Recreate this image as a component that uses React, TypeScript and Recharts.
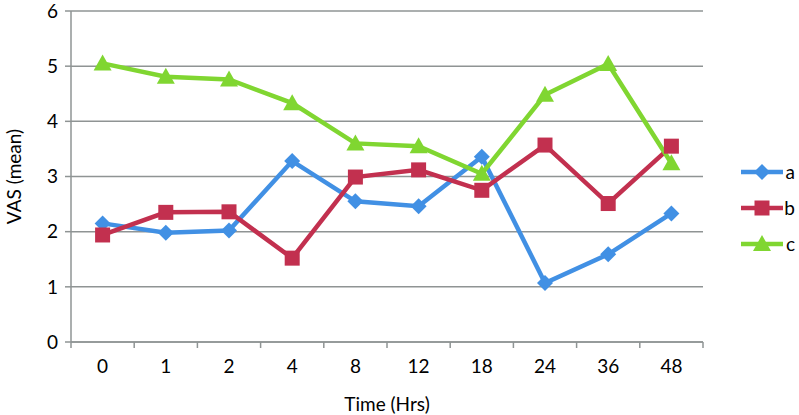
import { LineChart, Line, XAxis, YAxis, CartesianGrid, Legend } from "recharts";

// Hours after surgery (categories)
const times = ["0", "1", "2", "4", "8", "12", "18", "24", "36", "48"];
// Mean VAS per group
const seriesA = [2.15, 1.98, 2.02, 3.28, 2.55, 2.46, 3.36, 1.07, 1.59, 2.33];
const seriesB = [1.94, 2.35, 2.36, 1.52, 2.99, 3.12, 2.75, 3.57, 2.51, 3.55];
const seriesC = [5.05, 4.81, 4.76, 4.33, 3.6, 3.55, 3.05, 4.48, 5.04, 3.24];
const yTicks = [0, 1, 2, 3, 4, 5, 6];

const W = 799;
const H = 415;
const MARGIN = { top: 11, right: 4, bottom: 0, left: 0 };
const Y_AXIS_W = 71;
const X_AXIS_H = 73;
const LEGEND_W = 92;
const PLOT_W = W - MARGIN.left - MARGIN.right - Y_AXIS_W - LEGEND_W;

const BLUE = "#4190e4";
const RED = "#c2304f";
const GREEN = "#80d631";
const GRID = "#8f9494";
const FONT = "Lato, 'Open Sans', sans-serif";
const FS = 19;

const data = times.map((t, i) => ({ time: t, a: seriesA[i], b: seriesB[i], c: seriesC[i] }));

// Recharts hands custom dots the series colour as stroke
const Diamond = ({ cx, cy, stroke }: any) => (
  <polygon points={`${cx},${cy - 8} ${cx + 8},${cy} ${cx},${cy + 8} ${cx - 8},${cy}`} fill={stroke} />
);
const Square = ({ cx, cy, stroke }: any) => (
  <rect x={cx - 7.5} y={cy - 7.5} width={15} height={15} fill={stroke} />
);
const Triangle = ({ cx, cy, stroke }: any) => (
  <polygon points={`${cx},${cy - 9} ${cx + 9},${cy + 7} ${cx - 9},${cy + 7}`} fill={stroke} />
);

const markers: Record<string, any> = { a: Diamond, b: Square, c: Triangle };

const band = PLOT_W / times.length;

// Excel-style ticks sit between categories
function XTick({ x, y, payload, index }: any) {
  return (
    <g>
      <line x1={x - band / 2} x2={x - band / 2} y1={y - 18} y2={y - 12} stroke={GRID} strokeWidth={1.5} />
      {index === times.length - 1 && (
        <line x1={x + band / 2} x2={x + band / 2} y1={y - 18} y2={y - 12} stroke={GRID} strokeWidth={1.5} />
      )}
      <text x={x} y={y} dy="0.71em" textAnchor="middle" fontSize={FS} fontFamily={FONT} fill="#000">
        {payload.value}
      </text>
    </g>
  );
}

function LegendBox({ payload }: any) {
  return (
    <div style={{ width: LEGEND_W, fontFamily: FONT, fontSize: FS }}>
      {(payload || []).map((p: any) => {
        const M = markers[p.dataKey];
        return (
          <div key={p.dataKey} style={{ display: "flex", alignItems: "center", height: 36 }}>
            <svg width={84} height={20} style={{ display: "block" }}>
              <line x1={38} x2={80} y1={10} y2={10} stroke={p.color} strokeWidth={4.5} />
              <M cx={59} cy={10} stroke={p.color} />
            </svg>
            <span style={{ marginLeft: 1, lineHeight: "20px" }}>{p.value}</span>
          </div>
        );
      })}
    </div>
  );
}

export default function App() {
  return (
    <div style={{ position: "absolute", left: 0, top: 0, width: W, height: H, background: "#fff" }}>
      <LineChart width={W} height={H} data={data} margin={MARGIN}>
        <CartesianGrid vertical={false} stroke={GRID} strokeWidth={1.5} />
        <XAxis
          dataKey="time"
          height={X_AXIS_H}
          stroke={GRID}
          strokeWidth={1.5}
          padding={{ left: band / 2, right: band / 2 }}
          tickLine={false}
          tickSize={6}
          tickMargin={12}
          tick={<XTick />}
          interval={0}
          label={{ value: "Time (Hrs)", position: "insideBottom", offset: 4, fontSize: FS, fontFamily: FONT, fill: "#000" }}
        />
        <YAxis
          width={Y_AXIS_W}
          domain={[0, 6]}
          ticks={yTicks}
          interval={0}
          stroke={GRID}
          strokeWidth={1.5}
          tickSize={6}
          tickMargin={7}
          tick={{ fontSize: FS, fontFamily: FONT, fill: "#000" }}
          label={{
            value: "VAS (mean)",
            angle: -90,
            position: "insideLeft",
            offset: 14,
            fontSize: FS,
            fontFamily: FONT,
            fill: "#000",
            style: { textAnchor: "middle" },
          }}
        />
        <Legend layout="vertical" align="right" verticalAlign="middle" content={<LegendBox />} wrapperStyle={{ width: LEGEND_W }} />
        <Line dataKey="a" name="a" stroke={BLUE} strokeWidth={4.5} dot={<Diamond />} activeDot={false} isAnimationActive={false} />
        <Line dataKey="b" name="b" stroke={RED} strokeWidth={4.5} dot={<Square />} activeDot={false} isAnimationActive={false} />
        <Line dataKey="c" name="c" stroke={GREEN} strokeWidth={4.5} dot={<Triangle />} activeDot={false} isAnimationActive={false} />
      </LineChart>
    </div>
  );
}
